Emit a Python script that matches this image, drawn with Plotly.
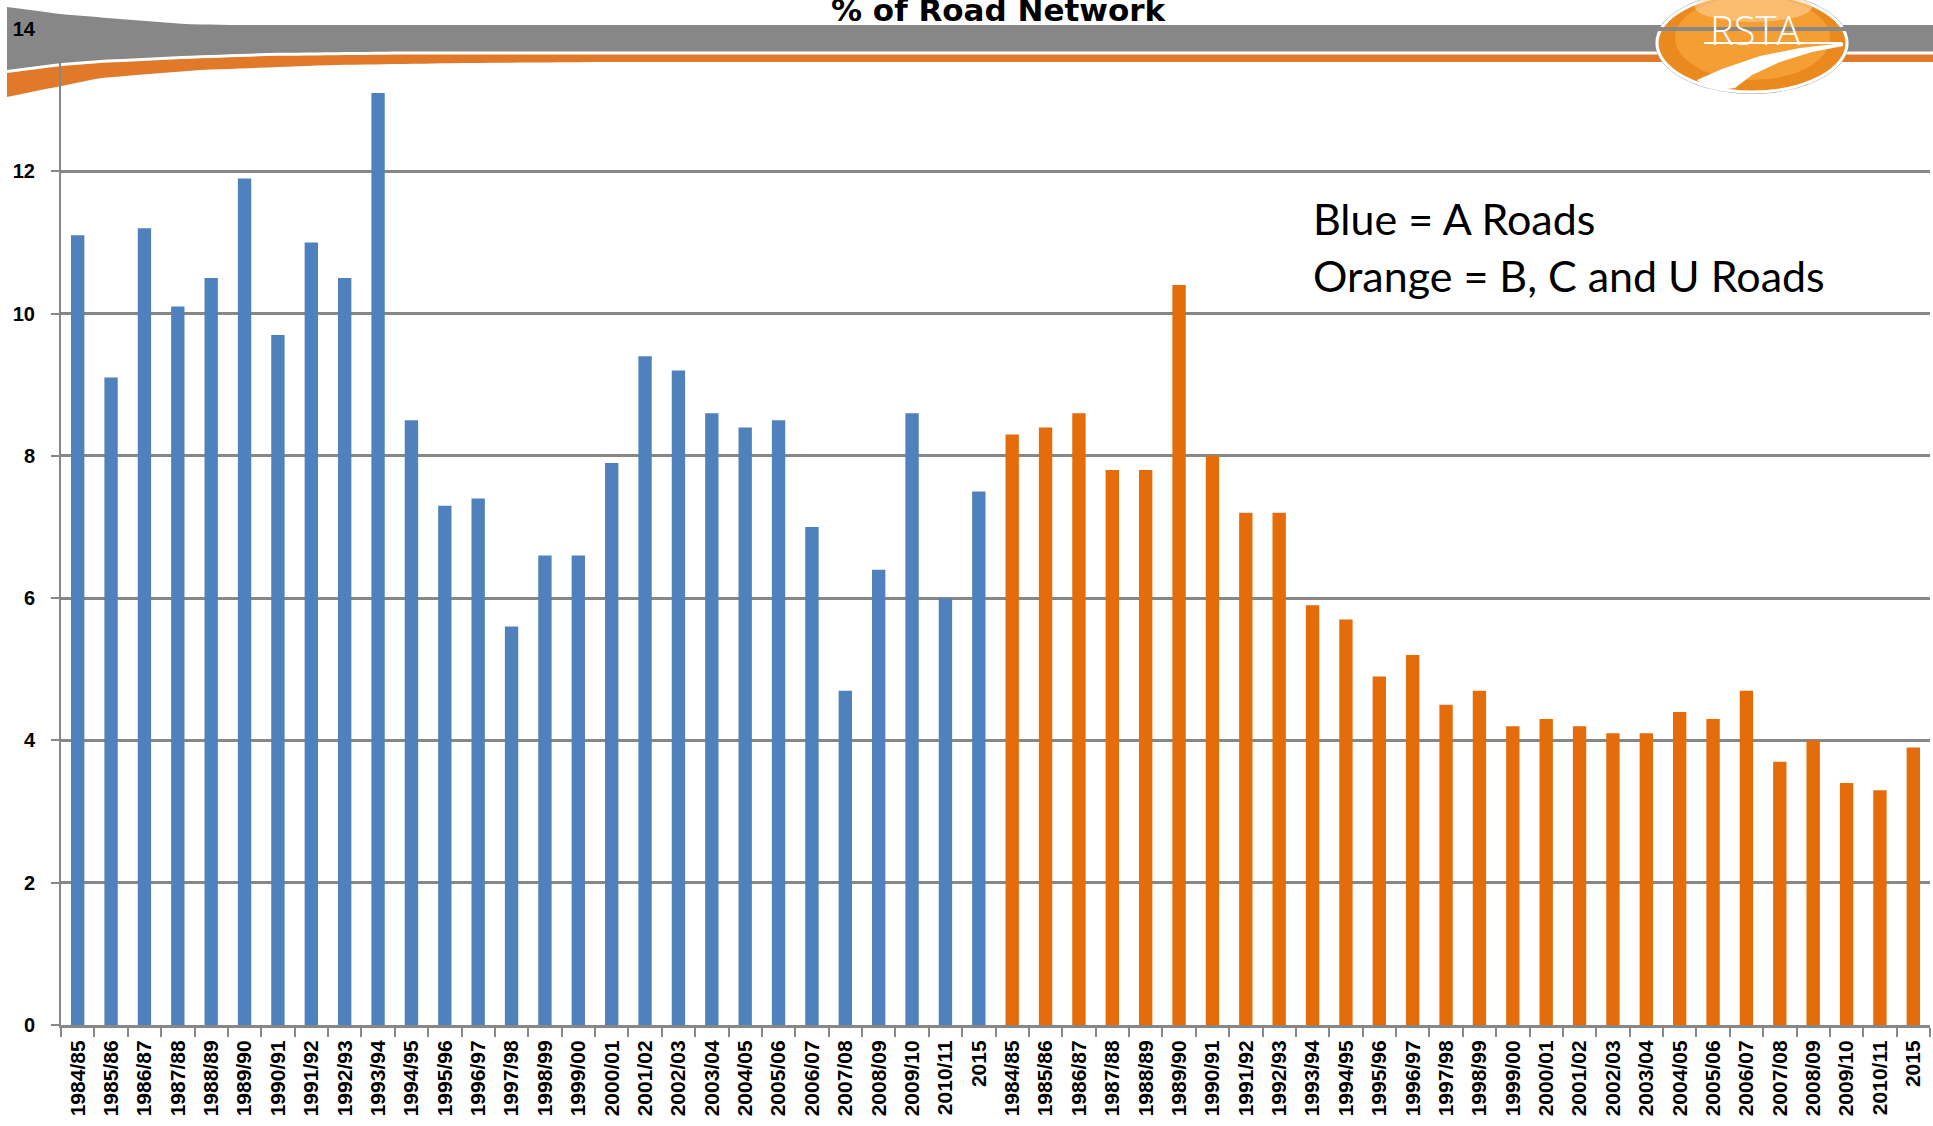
import numpy as np
import plotly.graph_objects as go

# Financial-year labels (same sequence for both road classes)
years = ["1984/85", "1985/86", "1986/87", "1987/88", "1988/89", "1989/90", "1990/91",
         "1991/92", "1992/93", "1993/94", "1994/95", "1995/96", "1996/97", "1997/98",
         "1998/99", "1999/00", "2000/01", "2001/02", "2002/03", "2003/04", "2004/05",
         "2005/06", "2006/07", "2007/08", "2008/09", "2009/10", "2010/11", "2015"]

# % of road network - A roads
a_roads = [11.1, 9.1, 11.2, 10.1, 10.5, 11.9, 9.7, 11.0, 10.5, 13.1, 8.5, 7.3, 7.4, 5.6,
           6.6, 6.6, 7.9, 9.4, 9.2, 8.6, 8.4, 8.5, 7.0, 4.7, 6.4, 8.6, 6.0, 7.5]

# % of road network - B, C and U roads
bcu_roads = [8.3, 8.4, 8.6, 7.8, 7.8, 10.4, 8.0, 7.2, 7.2, 5.9, 5.7, 4.9, 5.2, 4.5,
             4.7, 4.2, 4.3, 4.2, 4.1, 4.1, 4.4, 4.3, 4.7, 3.7, 4.0, 3.4, 3.3, 3.9]

y_ticks = [0, 2, 4, 6, 8, 10, 12, 14]

BLUE = "#4F81BD"
ORANGE = "#E46C0A"
GRID = "#878787"

W, H = 1933, 1126
ML, MR, MT, MB = 61, 3, 29, 101
PW, PH = W - ML - MR, H - MT - MB

n = len(years)
x_a = list(range(n))
x_b = list(range(n, 2 * n))


def px(x):
    return (x - ML) / PW


def py(y):
    return (H - MB - y) / PH


def band_path(top_pts, bot_pts):
    xs = np.linspace(7, W, 200)
    top = np.interp(xs, [p[0] for p in top_pts], [p[1] for p in top_pts])
    bot = np.interp(xs, [p[0] for p in bot_pts], [p[1] for p in bot_pts])
    pts = [(a, b) for a, b in zip(xs, top)] + [(a, b) for a, b in zip(xs[::-1], bot[::-1])]
    return "M " + " L ".join(f"{px(a):.5f},{py(b):.5f}" for a, b in pts) + " Z"


def poly_path(pts):
    return "M " + " L ".join(f"{px(a):.5f},{py(b):.5f}" for a, b in pts) + " Z"


fig = go.Figure()
fig.add_trace(go.Bar(x=x_a, y=a_roads, marker=dict(color=BLUE, line=dict(width=0)),
                     width=0.4, name="A Roads"))
fig.add_trace(go.Bar(x=x_b, y=bcu_roads, marker=dict(color=ORANGE, line=dict(width=0)),
                     width=0.4, name="B, C and U Roads"))

shapes = []
# header swoosh bands
gray_top = [(7, 7), (60, 14), (120, 19), (183, 24), (230, 25), (W, 25)]
gray_bot = [(7, 70), (61, 63), (100, 60), (183, 56), (267, 53), (400, 51.5), (W, 51.5)]
orange_top = [(7, 73), (61, 66), (100, 63), (183, 59), (267, 56), (400, 54.5), (W, 54.5)]
orange_bot = [(7, 97), (61, 86), (100, 78), (200, 70), (333, 65), (467, 63), (600, 62), (W, 62)]
shapes.append(dict(type="path", xref="paper", yref="paper", layer="below",
                   path=band_path(gray_top, gray_bot), fillcolor="#878787", line=dict(width=0)))
shapes.append(dict(type="path", xref="paper", yref="paper", layer="below",
                   path=band_path(orange_top, orange_bot), fillcolor="#E07A2A", line=dict(width=0)))

# RSTA badge
shapes.append(dict(type="circle", xref="paper", yref="paper", layer="above",
                   x0=px(1655), x1=px(1849), y0=py(-8), y1=py(94),
                   fillcolor="#9A9A9A", line=dict(width=0)))
shapes.append(dict(type="circle", xref="paper", yref="paper", layer="above",
                   x0=px(1657), x1=px(1847), y0=py(-6), y1=py(92),
                   fillcolor="#EA8A1E", line=dict(color="white", width=3)))
shapes.append(dict(type="circle", xref="paper", yref="paper", layer="above",
                   x0=px(1675), x1=px(1830), y0=py(-4), y1=py(80),
                   fillcolor="#F49E34", line=dict(width=0)))
shapes.append(dict(type="circle", xref="paper", yref="paper", layer="above",
                   x0=px(1695), x1=px(1812), y0=py(-8), y1=py(22),
                   fillcolor="rgba(255,214,160,0.55)", line=dict(width=0)))
shapes.append(dict(type="path", xref="paper", yref="paper", layer="above",
                   path=poly_path([(1697, 80), (1722, 69), (1760, 56), (1800, 48), (1843, 43),
                                   (1843, 46), (1812, 52), (1780, 62), (1752, 75), (1735, 88),
                                   (1718, 90), (1703, 86)]),
                   fillcolor="white", line=dict(width=0)))
shapes.append(dict(type="line", xref="paper", yref="paper", layer="above",
                   x0=px(1704), x1=px(1842), y0=py(43), y1=py(43),
                   line=dict(color="white", width=2)))
shapes.append(dict(type="line", xref="paper", yref="paper", layer="above",
                   x0=px(1658), x1=px(1846), y0=py(29), y1=py(29),
                   line=dict(color="#888888", width=4)))

annotations = [
    dict(text="<b>% of Road Network</b>", xref="paper", yref="paper",
         x=px(999), y=py(10), xanchor="center", yanchor="middle", showarrow=False,
         font=dict(family="DejaVu Sans", size=31, color="black")),
    dict(text="RSTA", xref="paper", yref="paper", x=px(1755), y=py(29),
         xanchor="center", yanchor="middle", showarrow=False,
         font=dict(family="Open Sans", size=40, color="white", weight=300)),
    dict(text="Blue = A Roads", xref="paper", yref="paper", x=px(1311), y=py(218),
         xanchor="left", yanchor="middle", showarrow=False,
         font=dict(family="Lato", size=43, color="black")),
    dict(text="Orange = B, C and U Roads", xref="paper", yref="paper", x=px(1311), y=py(275),
         xanchor="left", yanchor="middle", showarrow=False,
         font=dict(family="Lato", size=43, color="black")),
]

fig.update_layout(
    width=W, height=H,
    margin=dict(l=ML, r=MR, t=MT, b=MB, pad=0),
    paper_bgcolor="white", plot_bgcolor="white",
    showlegend=False, bargap=0.6,
    shapes=shapes, annotations=annotations,
    xaxis=dict(
        range=[-0.5, 2 * n - 0.5],
        tickmode="array", tickvals=x_a + x_b, ticktext=years + years,
        tickangle=-90, ticks="", showgrid=False, zeroline=False,
        showline=True, linecolor=GRID, linewidth=3,
        tickfont=dict(family="Liberation Sans, Arial", size=21, color="black", weight="bold"),
        minor=dict(ticks="outside", tick0=-0.5, dtick=1, ticklen=9, tickwidth=2,
                   tickcolor=GRID, showgrid=False),
        ticklabelstandoff=4,
    ),
    yaxis=dict(
        range=[0, 14], tickmode="array", tickvals=y_ticks,
        ticks="outside", ticklen=8, tickwidth=2, tickcolor=GRID,
        showgrid=True, gridcolor=GRID, gridwidth=2.5, zeroline=False,
        showline=True, linecolor=GRID, linewidth=2,
        tickfont=dict(family="Liberation Sans, Arial", size=20, color="black", weight="bold"),
        ticklabelstandoff=12,
    ),
)

fig.write_html("out.html")
